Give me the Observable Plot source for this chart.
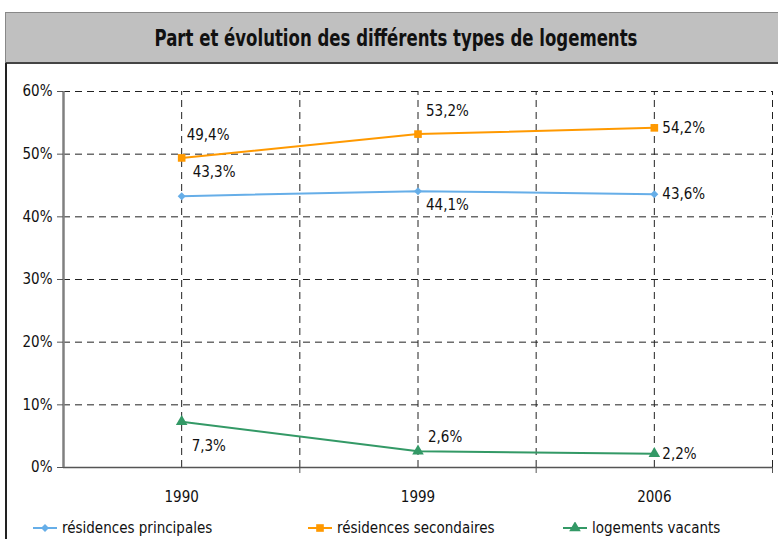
<!DOCTYPE html>
<html><head><meta charset="utf-8">
<script src="https://cdn.jsdelivr.net/npm/d3@7"></script>
<script src="https://cdn.jsdelivr.net/npm/@observablehq/plot@0.6"></script>
<style>
body{margin:0;background:#fff;}
#wrap{position:relative;width:778px;height:539px;overflow:hidden;font-family:"Liberation Sans Narrow","DejaVu Sans Condensed","Roboto Condensed",sans-serif;font-stretch:condensed;color:#111;}
#title{position:absolute;left:5px;top:12px;width:790px;height:52px;background:#c0c0c0;border:1px solid #888;border-bottom:2px solid #444;box-sizing:border-box;font-weight:bold;font-size:23px;line-height:50px;}
#title span{position:absolute;left:0;width:780px;text-align:center;transform:scaleX(0.8);transform-origin:390px 50%;}
#frame{position:absolute;left:5px;top:63px;width:2px;height:480px;background:#222;}
#chart{position:absolute;left:0;top:64px;}
#legend{position:absolute;top:518px;left:0;width:778px;height:20px;font-size:15px;}
.item{position:absolute;top:0;display:flex;align-items:center;height:20px;}
.item svg{margin-right:5px;}
</style></head>
<body><div id="wrap">
<div id="title"><span>Part et évolution des différents types de logements</span></div>
<div id="frame"></div>
<div id="chart"></div>
<div id="legend"></div>
</div>
<script>
const years = ["1990", "1999", "2006"];
const seriesNames = ["résidences principales", "résidences secondaires", "logements vacants"];
const principales = [43.3, 44.1, 43.6];
const secondaires = [49.4, 53.2, 54.2];
const vacants = [7.3, 2.6, 2.2];
const yTicks = [0, 10, 20, 30, 40, 50, 60];

const colors = ["#66aee8", "#ff9900", "#339966"];
const symbols = ["diamond2", "square", "triangle"];
const sizes = [3.6, 4.3, 4.3];
// label offsets [dx, dy] per series per year (style only)
const offsets = [
  [[11, -24], [8, 14], [8, 0]],
  [[5, -23], [8, -23], [8, 0]],
  [[10, 24], [10, -14], [8, 0]]
];

const allSeries = [principales, secondaires, vacants];
const rows = [];
allSeries.forEach((vals, s) => vals.forEach((v, i) => rows.push({s, series: seriesNames[s], i, year: years[i], value: v})));

const fmt = v => v.toFixed(1).replace(".", ",") + "%";
const catPos = years.map((_, i) => i);
const boundaries = years.map((_, i) => i + 0.5);
const font = '"Liberation Sans Narrow","DejaVu Sans Condensed","Roboto Condensed",sans-serif';

const chart = Plot.plot({
  width: 778,
  height: 475,
  marginTop: 27,
  marginBottom: 72,
  marginLeft: 63,
  marginRight: 6,
  style: {fontFamily: font, fontSize: "15px", color: "#111", background: "transparent", fontStretch: "condensed"},
  x: {type: "linear", domain: [-0.5, years.length - 0.5], axis: null, label: null},
  y: {domain: [0, 60], axis: null, label: null},
  color: {domain: seriesNames, range: colors},
  symbol: {domain: seriesNames, range: symbols},
  marks: [
    Plot.ruleY(yTicks.filter(t => t > 0), {stroke: "#222", strokeWidth: 1, strokeDasharray: "7,5"}),
    Plot.ruleX(catPos.concat(boundaries), {y1: 0, y2: 60, stroke: "#222", strokeWidth: 1, strokeDasharray: "7,5"}),
    Plot.ruleY([0], {stroke: "#555", strokeWidth: 1.5}),
    Plot.ruleX([-0.5], {y1: 0, y2: 60, stroke: "#808080", strokeWidth: 2.5}),
    Plot.axisY({ticks: yTicks, tickSize: 6, tickPadding: 5, tickFormat: d => d + "%", stroke: "#555", fontSize: 15, label: null}),
    Plot.axisX({ticks: boundaries, tickSize: 6, tickFormat: () => "", stroke: "#555", label: null}),
    Plot.axisX({ticks: catPos, tickSize: 0, tickPadding: 24, tickFormat: i => years[i], fontSize: 15, label: null}),
    Plot.line(rows, {x: "i", y: "value", z: "series", stroke: "series", strokeWidth: 2}),
    ...seriesNames.map((name, s) => Plot.dot(rows.filter(r => r.s === s), {x: "i", y: "value", symbol: "series", fill: "series", r: sizes[s]})),
    ...rows.map(r => Plot.text([r], {x: "i", y: "value", text: d => fmt(d.value), textAnchor: "start", dx: offsets[r.s][r.i][0], dy: offsets[r.s][r.i][1], fill: "#111", fontSize: 15}))
  ]
});
document.getElementById("chart").appendChild(chart);

// legend
const legendX = [33, 308, 563];
const legend = document.getElementById("legend");
seriesNames.forEach((name, s) => {
  const div = document.createElement("div");
  div.className = "item";
  div.style.left = legendX[s] + "px";
  const sym = d3.symbol(s === 0 ? d3.symbolDiamond2 : s === 1 ? d3.symbolSquare : d3.symbolTriangle, sizes[s] * sizes[s] * Math.PI)();
  div.innerHTML = `<svg width="24" height="12"><line x1="0" x2="24" y1="6" y2="6" stroke="${colors[s]}" stroke-width="2"/><path d="${sym}" transform="translate(12,6)" fill="${colors[s]}"/></svg><span>${name}</span>`;
  legend.appendChild(div);
});
</script>
</body></html>
